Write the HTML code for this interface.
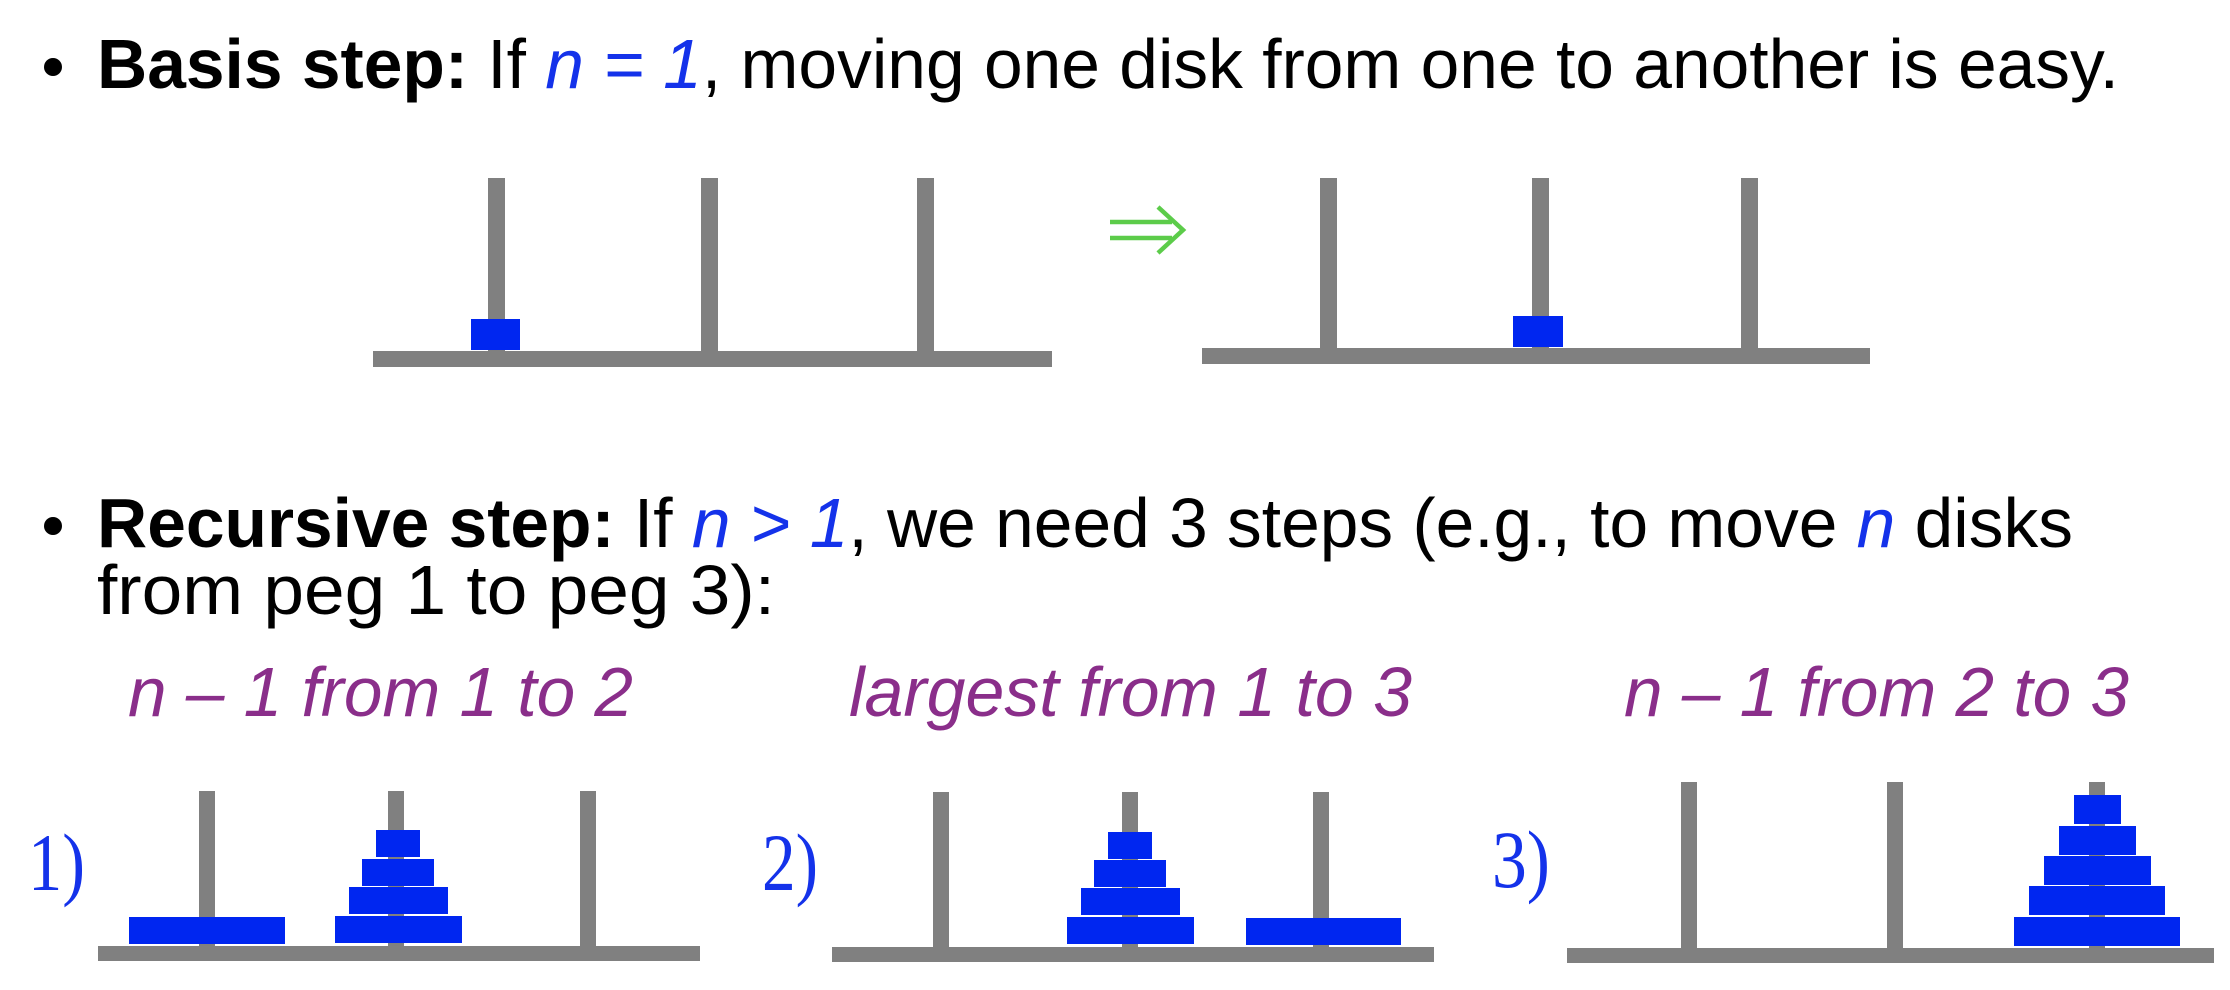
<!DOCTYPE html>
<html><head><meta charset="utf-8"><style>
html,body{margin:0;padding:0;background:#fff;}
svg{display:block;}
text{font-family:"Liberation Sans",sans-serif;}
</style></head><body>
<svg width="2230" height="990" viewBox="0 0 2230 990">
<g>
<circle cx="53" cy="67" r="9" fill="#000"/>
<text x="97" y="88" font-size="70" textLength="2022" lengthAdjust="spacingAndGlyphs" fill="#000"><tspan font-weight="bold">Basis step:</tspan> If <tspan fill="#1432ea" font-style="italic">n = 1</tspan>, moving one disk from one to another is easy.</text>
</g>
<g>
<rect x="488" y="178" width="17" height="180" fill="#808080"/>
<rect x="701" y="178" width="17" height="180" fill="#808080"/>
<rect x="917" y="178" width="17" height="180" fill="#808080"/>
<rect x="373" y="351" width="679" height="16" fill="#808080"/>
<rect x="471" y="319" width="49" height="31" fill="#0026f0"/>
</g>
<g stroke="#5ccc4a" stroke-width="4.5" fill="none">
<line x1="1110" y1="222" x2="1172" y2="222"/>
<line x1="1110" y1="238" x2="1172" y2="238"/>
<polyline points="1158,207 1183,230 1158,253"/>
</g>
<g>
<rect x="1320" y="178" width="17" height="178" fill="#808080"/>
<rect x="1532" y="178" width="17" height="178" fill="#808080"/>
<rect x="1741" y="178" width="17" height="178" fill="#808080"/>
<rect x="1202" y="348" width="668" height="16" fill="#808080"/>
<rect x="1513" y="316" width="50" height="31" fill="#0026f0"/>
</g>
<g>
<circle cx="53" cy="526" r="9" fill="#000"/>
<text x="97" y="547" font-size="70" textLength="1976" lengthAdjust="spacingAndGlyphs" fill="#000"><tspan font-weight="bold">Recursive step:</tspan> If <tspan fill="#1432ea" font-style="italic">n &gt; 1</tspan>, we need 3 steps (e.g., to move <tspan fill="#1432ea" font-style="italic">n</tspan> disks</text>
<text x="97" y="614" font-size="70" textLength="678" lengthAdjust="spacingAndGlyphs" fill="#000">from peg 1 to peg 3):</text>
</g>
<g fill="#8a2e8a" font-style="italic" font-size="70">
<text x="128" y="716" textLength="505" lengthAdjust="spacingAndGlyphs">n – 1 from 1 to 2</text>
<text x="849" y="716" textLength="563" lengthAdjust="spacingAndGlyphs">largest from 1 to 3</text>
<text x="1624" y="716" textLength="505" lengthAdjust="spacingAndGlyphs">n – 1 from 2 to 3</text>
</g>
<g fill="#1432ea" font-size="82">
<text x="28" y="890" textLength="57" lengthAdjust="spacingAndGlyphs" style="font-family:'Liberation Serif',serif">1)</text>
<text x="762" y="890" textLength="56" lengthAdjust="spacingAndGlyphs" style="font-family:'Liberation Serif',serif">2)</text>
<text x="1492" y="887" textLength="58" lengthAdjust="spacingAndGlyphs" style="font-family:'Liberation Serif',serif">3)</text>
</g>
<g transform="translate(0,-5)">
<g fill="#808080">
<rect x="199" y="796" width="16" height="160"/>
<rect x="388" y="796" width="16" height="160"/>
<rect x="580" y="796" width="16" height="160"/>
<rect x="98" y="951" width="602" height="15"/>
<g fill="#0026f0">
<rect x="129" y="922" width="156" height="27"/>
<rect x="376" y="835" width="44" height="27"/>
<rect x="362" y="864" width="72" height="27"/>
<rect x="349" y="892" width="99" height="27"/>
<rect x="335" y="921" width="127" height="27"/>
</g>
</g>
<g fill="#808080">
<rect x="933" y="797" width="16" height="160"/>
<rect x="1122" y="797" width="16" height="160"/>
<rect x="1313" y="797" width="16" height="160"/>
<rect x="832" y="952" width="602" height="15"/>
<g fill="#0026f0">
<rect x="1246" y="923" width="155" height="27"/>
<rect x="1108" y="837" width="44" height="27"/>
<rect x="1094" y="865" width="72" height="27"/>
<rect x="1081" y="893" width="99" height="27"/>
<rect x="1067" y="922" width="127" height="27"/>
</g>
</g>
<g fill="#808080">
<rect x="1681" y="787" width="16" height="170"/>
<rect x="1887" y="787" width="16" height="170"/>
<rect x="2089" y="787" width="16" height="170"/>
<rect x="1567" y="953" width="647" height="15"/>
<g fill="#0026f0">
<rect x="2074" y="800" width="47" height="29"/>
<rect x="2059" y="831" width="77" height="29"/>
<rect x="2044" y="861" width="107" height="29"/>
<rect x="2029" y="891" width="136" height="29"/>
<rect x="2014" y="922" width="166" height="29"/>
</g>
</g>
</g>
</svg>
</body></html>
